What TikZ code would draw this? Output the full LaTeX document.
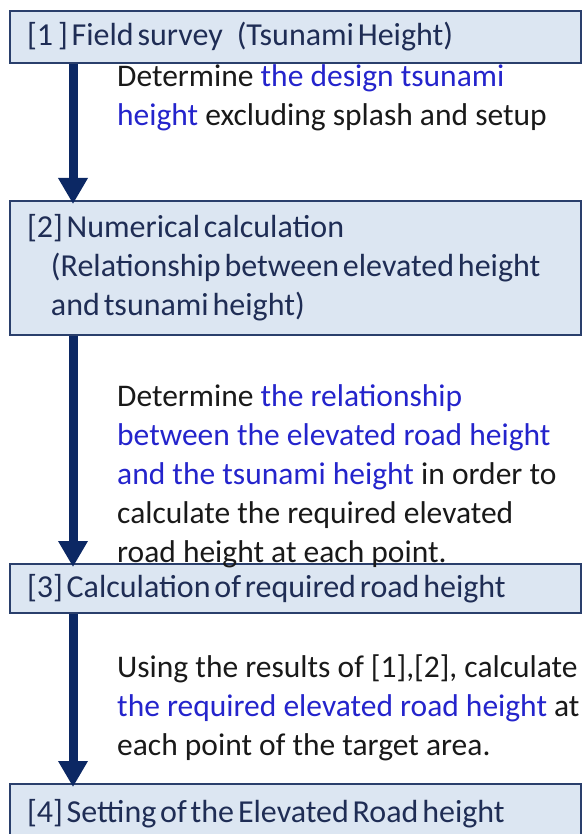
\documentclass[tikz,border=0pt]{standalone}
\usepackage{fontspec}
\setmainfont{Carlito}
\usetikzlibrary{arrows.meta}
\usetikzlibrary{calc}
\definecolor{boxfill}{HTML}{DCE6F2}
\definecolor{boxline}{HTML}{2A3F6C}
\definecolor{boxtext}{HTML}{1F2D55}
\definecolor{arrowblue}{HTML}{0C2864}
\definecolor{keyblue}{HTML}{2424CC}
\newcommand{\key}[1]{\textcolor{keyblue}{#1}}
\tikzset{
    stepbox/.style={draw=boxline, fill=boxfill, line width=2pt, anchor=north west,
        minimum width=571pt, text width=537pt, inner xsep=17pt, inner ysep=2pt,
        align=left, text=boxtext, font=\fontsize{32}{39}\selectfont,
        execute at begin node={\spaceskip=0.12em\relax}},
    note/.style={anchor=north west, inner sep=0pt, align=left, text=black!90,
        font=\fontsize{31.5}{39}\selectfont},
    flowarrow/.style={draw=arrowblue, line width=9pt,
        -{Triangle[width=28pt,length=26pt]}, shorten >=-4pt}
}

\begin{document}
\begin{tikzpicture}[x=1pt, y=-1pt]
        \useasboundingbox (0,0) rectangle (585,834);
        \coordinate (ax) at (73,0);
        % steps
        \node[stepbox, minimum height=52pt] (b1) at (9,10) {[1\hspace{5pt}] Field survey\hspace{14pt}(Tsunami Height)};
        \node[stepbox, minimum height=134pt] (b2) at (9,200)
            {[2] Numerical calculation\\ \hspace*{24pt}(Relationship between elevated height\\ \hspace*{24pt}and tsunami height)};
        \node[stepbox, minimum height=49pt] (b3) at (9,563) {[3] Calculation of required road height};
        \node[stepbox, minimum height=60pt] (b4) at (9,783) {[4] Setting of the Elevated Road height};
        % notes
        \node[note] (t1) at (117,64) {Determine \key{the design tsunami}\\ \key{height} excluding splash and setup};
        \node[note] (t2) at (117,384) {Determine \key{the relationship}\\ \key{between the elevated road height}\\
            \key{and the tsunami height} in order to\\ calculate the required elevated\\ road height at each point.};
        \node[note] (t3) at (117,655) {Using the results of [1],[2], calculate\\
            \key{the required elevated road height} at\\ each point of the target area.};
        % arrows
        \draw[flowarrow] (b1.south -| ax) -- (b2.north -| ax);
        \draw[flowarrow] (b2.south -| ax) -- (b3.north -| ax);
        \draw[flowarrow] (b3.south -| ax) -- (b4.north -| ax);
    \end{tikzpicture}
\end{document}
